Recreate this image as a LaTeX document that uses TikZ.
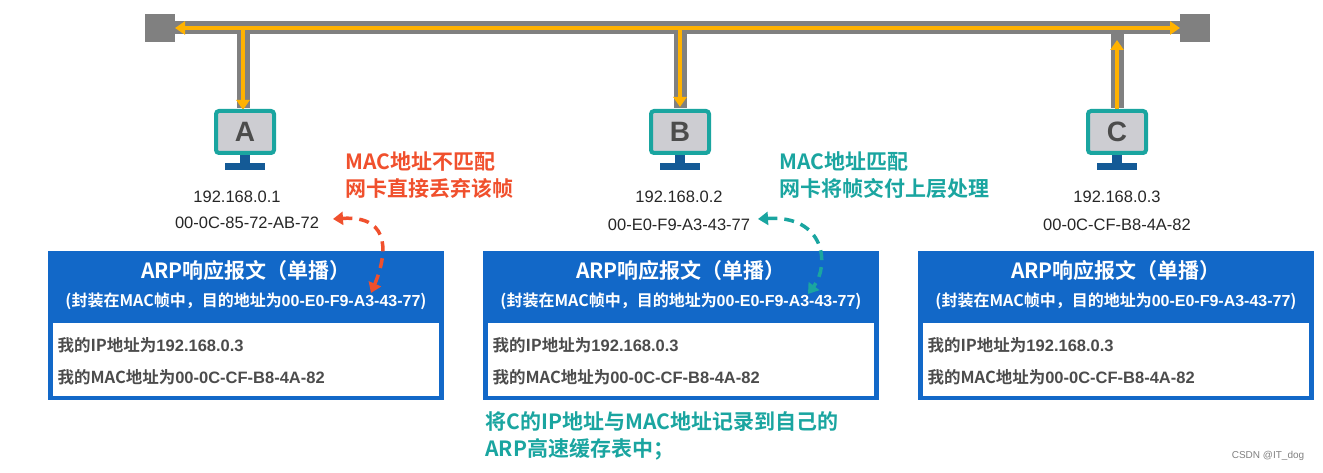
\documentclass[tikz,border=0pt]{standalone}
\usepackage{fontspec}
\setmainfont{Liberation Sans}
\newfontfamily\cjk{Noto Sans CJK SC}[BoldFont={Noto Sans CJK SC Bold}]
\usetikzlibrary{arrows.meta}
\definecolor{boxblue}{RGB}{18,104,200}
\definecolor{tealc}{RGB}{26,165,160}
\definecolor{redc}{RGB}{240,80,45}
\definecolor{orangec}{RGB}{255,178,0}
\definecolor{grayc}{RGB}{128,128,128}
\definecolor{scrfill}{RGB}{205,205,210}
\definecolor{standc}{RGB}{20,90,150}
\begin{document}
\begin{tikzpicture}[x=1pt,y=-1pt,
  band/.style={line width=13pt,grayc},
  sig/.style={line width=4pt,orangec,-{Triangle[length=10pt,width=13pt]}},
  addr/.style={font=\fontsize{16.5}{18}\selectfont,text=black!85},
  head/.style={font=\cjk\bfseries\fontsize{21}{23}\selectfont,text=white},
  sub/.style={font=\cjk\bfseries\fontsize{16}{18}\selectfont,text=white},
  body/.style={font=\cjk\bfseries\fontsize{16.5}{18}\selectfont,text=black!70,anchor=west},
  note/.style={font=\cjk\bfseries\fontsize{21}{27}\selectfont,align=left,anchor=north west},
  dasharr/.style={line width=3.5pt,dash pattern=on 10pt off 7pt,{Triangle[length=10pt,width=13pt]}-{Triangle[length=10pt,width=13pt]}}]
\useasboundingbox (0,0) rectangle (1323,473);
% bus
\fill[grayc] (145,14) rectangle (175,42);
\fill[grayc] (1180,14) rectangle (1210,42);
\coordinate (bl) at (175,28); \coordinate (br) at (1180,28);
\draw[band] (bl) -- (br);
\foreach \x in {243,680,1117} \draw[band] (\x,28) -- (\x,108);
\draw[line width=4pt,orangec] (243,28) -- (1117,28);
\draw[sig] (243,28) -- (bl);
\draw[sig] (1117,28) -- (br);
\draw[sig] (243,28) -- (243,110);
\draw[sig] (680,28) -- (680,107);
\draw[sig] (1117,115) -- (1117,40);
% monitors
\foreach \x/\l/\n in {245/A/ma,680/B/mb,1117/C/mc}{
  \node[draw=tealc,line width=4pt,fill=scrfill,rounded corners=3pt,minimum width=58pt,minimum height=42pt,
        font=\bfseries\fontsize{28}{30}\selectfont,text=black!70] (\n) at (\x,132) {\l};
  \fill[standc] (\x-5,155) rectangle (\x+5,164);
  \fill[standc] (\x-20,163) rectangle (\x+20,170);
}
% addresses
\node[addr] (ipa) at (237,197) {192.168.0.1};
\node[addr] (maca) at (247,223) {00-0C-85-72-AB-72};
\node[addr] (ipb) at (679,197) {192.168.0.2};
\node[addr] (macb) at (679,225) {00-E0-F9-A3-43-77};
\node[addr] (ipc) at (1117,197) {192.168.0.3};
\node[addr] (macc) at (1117,225) {00-0C-CF-B8-4A-82};
% boxes
\foreach \x/\n in {48/ba,483/bb,918/bc}{
  \fill[boxblue] (\x,251) rectangle (\x+396,400);
  \fill[white] (\x+5,323) rectangle (\x+391,396);
  \node[head] (\n h) at (\x+198,271) {ARP响应报文（单播）};
  \node[sub] (\n s) at (\x+198,301) {(封装在MAC帧中，目的地址为{\rmfamily\bfseries 00-E0-F9-A3-43-77})};
  \node[body] (\n 1) at (\x+6,345) {我的IP地址为{\rmfamily\bfseries 192.168.0.3}};
  \node[body] (\n 2) at (\x+6,377) {我的MAC地址为{\rmfamily\bfseries 00-0C-CF-B8-4A-82}};
}
% notes
\node[note,text=redc] (na) at (342,148) {MAC地址不匹配\\网卡直接丢弃该帧};
\node[note,text=tealc] (nb) at (776,148) {MAC地址匹配\\网卡将帧交付上层处理};
\node[note,text=tealc] (nc) at (482,408) {将C的IP地址与MAC地址记录到自己的\\ARP高速缓存表中；};
\coordinate (ra) at (333,219); \coordinate (rb) at (371,293);
\draw[dasharr,redc] (ra) .. controls (395,215) and (385,260) .. (rb);
\coordinate (ta) at (758,219); \coordinate (tb) at (808,294);
\draw[dasharr,tealc] (ta) .. controls (825,215) and (830,265) .. (tb);
\node[font=\fontsize{10}{11}\selectfont,text=black!50] (wm) at (1268,456) {CSDN @IT\_dog};
\end{tikzpicture}
\end{document}
